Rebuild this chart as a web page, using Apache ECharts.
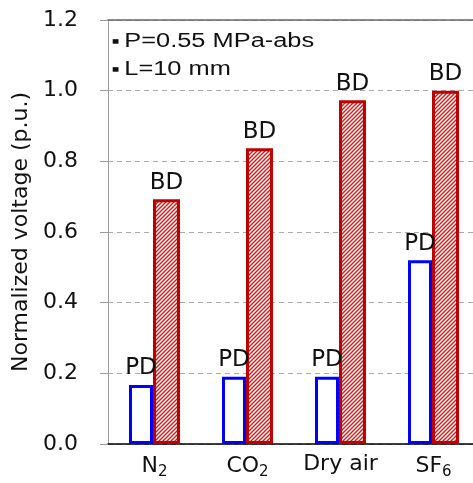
<!DOCTYPE html>
<html><head><meta charset="utf-8">
<script src="https://cdn.jsdelivr.net/npm/echarts@6/dist/echarts.min.js"></script>
<style>html,body{margin:0;padding:0;background:#fff}#c{width:473px;height:483px}</style>
</head><body><div id="c"></div>
<script>
const categories = ['N2', 'CO2', 'Dry air', 'SF6'];
const pdValues = [0.167, 0.19, 0.19, 0.52];
const bdValues = [0.693, 0.837, 0.973, 1.0];
const yTicks = [0, 0.2, 0.4, 0.6, 0.8, 1.0, 1.2];
const notes = ['P=0.55 MPa-abs', 'L=10 mm'];

function hatch() {
  const c = document.createElement('canvas');
  c.width = 4; c.height = 4;
  const g = c.getContext('2d');
  g.fillStyle = '#fff'; g.fillRect(0, 0, 4, 4);
  g.strokeStyle = '#D01818'; g.lineWidth = 1.4;
  g.beginPath();
  g.moveTo(-1, 5); g.lineTo(5, -1);
  g.moveTo(-5, 5); g.lineTo(1, -1);
  g.moveTo(3, 5); g.lineTo(9, -1);
  g.stroke();
  return c;
}

const catLabel = {
  'N2': '{t|N}{s|2}', 'CO2': '{t|CO}{s|2}', 'Dry air': '{t|Dry air}', 'SF6': '{t|SF}{s|6}'
};
const font = 'DejaVu Sans, sans-serif';
const chart = echarts.init(document.getElementById('c'), null, {renderer: 'canvas'});
chart.setOption({
  animation: false,
  grid: {left: 108, width: 372, top: 20, bottom: 39, outerBoundsMode: 'none', containLabel: false},
  xAxis: [{
    type: 'category', data: categories,
    axisLine: {lineStyle: {color: '#000', width: 1.5}},
    axisTick: {show: false},
    axisLabel: {
      margin: 9,
      formatter: v => catLabel[v],
      rich: {
        t: {fontSize: 22, color: '#111', fontFamily: font},
        s: {fontSize: 15, color: '#111', fontFamily: font, verticalAlign: 'bottom', padding: [12, 0, 0, 0]}
      }
    }
  }, {
    type: 'category', data: categories, position: 'top',
    axisLine: {show: true, lineStyle: {color: '#666', width: 1.5}},
    axisTick: {show: false}, axisLabel: {show: false}
  }],
  yAxis: {
    type: 'value', min: 0, max: 1.2, interval: 0.2,
    name: 'Normalized voltage (p.u.)', nameLocation: 'middle', nameGap: 76,
    nameTextStyle: {fontSize: 22, color: '#111', fontFamily: font},
    axisLine: {show: true, lineStyle: {color: '#999', width: 1}},
    axisTick: {show: true, length: 8, lineStyle: {color: '#999'}},
    axisLabel: {fontSize: 22, color: '#111', fontFamily: font, margin: 30,
      formatter: v => yTicks.includes(+v.toFixed(1)) ? v.toFixed(1) : ''},
    splitLine: {lineStyle: {color: '#aaa', type: [5, 4], width: 1}}
  },
  series: [{
    type: 'bar', data: pdValues, barWidth: 24, barGap: '0%',
    itemStyle: {color: '#fff', borderColor: '#0000FF', borderWidth: 3},
    label: {show: true, position: 'top', distance: 5, formatter: 'PD', fontSize: 23, color: '#111', fontFamily: font}
  }, {
    type: 'bar', data: bdValues, barWidth: 27,
    itemStyle: {color: {image: hatch(), repeat: 'repeat'}, borderColor: '#C00000', borderWidth: 3},
    label: {show: true, position: 'top', distance: 5, formatter: 'BD', fontSize: 23, color: '#111', fontFamily: font}
  }],
  graphic: notes.map((n, i) => ({
    type: 'text', x: 112, y: 31 + i * 28.5, scaleX: 1.27,
    style: {
      text: '{b|■}{t|' + n + '}',
      rich: {
        b: {fontSize: 6, fill: '#111', fontFamily: 'DejaVu Sans', padding: [0, 4, 0, 0], verticalAlign: 'middle'},
        t: {fontSize: 20, fill: '#111', fontFamily: 'Liberation Sans, Arial, sans-serif'}
      }
    }
  }))
});
</script></body></html>
